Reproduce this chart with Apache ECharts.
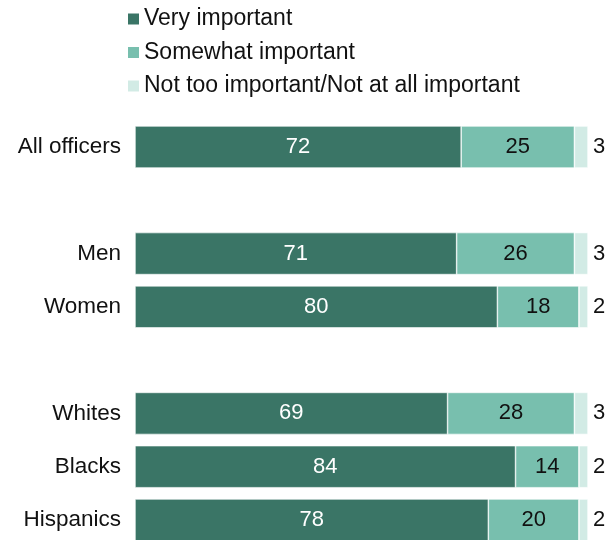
<!DOCTYPE html>
<html><head><meta charset="utf-8">
<script src="https://cdn.jsdelivr.net/npm/echarts@6/dist/echarts.min.js"></script>
<style>html,body{margin:0;padding:0;background:#fff}#c{width:613px;height:540px}</style>
</head><body><div id="c"></div>
<script>
const categories = ['All officers', ' ', 'Men', 'Women', '  ', 'Whites', 'Blacks', 'Hispanics'];
const seriesNames = ['Very important', 'Somewhat important', 'Not too important/Not at all important'];
const veryImportant = [72, null, 71, 80, null, 69, 84, 78];
const somewhatImportant = [25, null, 26, 18, null, 28, 14, 20];
const notImportant = [3, null, 3, 2, null, 3, 2, 2];
const colors = ['#3a7566', '#78bfae', '#d2ebe5'];
const FONT = '"Liberation Sans", Arial, sans-serif';

const chart = echarts.init(document.getElementById('c'), null, {renderer: 'canvas'});
function mk(name, data, color, label) {
  return {
    name, type: 'bar', stack: 'a', data, barWidth: 42, clip: false,
    itemStyle: {color, borderColor: '#ffffff', borderWidth: 0.6},
    label: Object.assign({show: true, fontFamily: FONT, fontSize: 22}, label),
    emphasis: {disabled: true}, animation: false
  };
}
chart.setOption({
  animation: false,
  legend: {
    orient: 'vertical', left: 121, top: 2,
    itemWidth: 13, itemHeight: 13, itemGap: 9.5,
    icon: 'rect',
    textStyle: {fontFamily: FONT, fontSize: 23, color: '#111', lineHeight: 24, padding: [0,0,0,-1]},
    data: seriesNames
  },
  grid: {left: 135, width: 453, top: 147, height: 373, containLabel: false},
  xAxis: {type: 'value', min: 0, max: 100, show: false},
  yAxis: {
    type: 'category', data: categories, inverse: true, boundaryGap: false,
    axisLine: {show: false}, axisTick: {show: false}, splitLine: {show: false},
    axisLabel: {fontFamily: FONT, fontSize: 22.5, color: '#111', margin: 14}
  },
  series: [
    mk(seriesNames[0], veryImportant, colors[0], {position: 'inside', color: '#ffffff'}),
    mk(seriesNames[1], somewhatImportant, colors[1], {position: 'inside', color: '#111'}),
    mk(seriesNames[2], notImportant, colors[2], {position: 'right', color: '#111', distance: 5})
  ]
});
</script></body></html>
